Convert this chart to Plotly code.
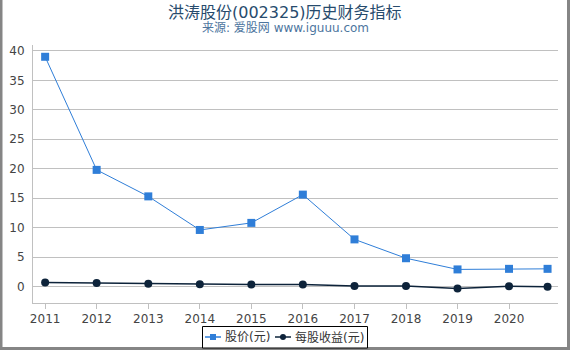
import plotly.graph_objects as go

dates = ["2011-01-01", "2012-01-01", "2013-01-01", "2014-01-01", "2015-01-01",
         "2016-01-01", "2017-01-01", "2018-01-01", "2019-01-01", "2020-01-01",
         "2020-09-30"]
price = [39.0, 19.8, 15.3, 9.6, 10.8, 15.6, 8.0, 4.8, 2.9, 3.0, 3.0]
eps = [0.7, 0.6, 0.45, 0.4, 0.35, 0.35, 0.1, 0.1, -0.35, 0.05, -0.05]
tick_vals = ["2011-01-01", "2012-01-01", "2013-01-01", "2014-01-01", "2015-01-01",
             "2016-01-01", "2017-01-01", "2018-01-01", "2019-01-01", "2020-01-01"]
tick_text = ["2011", "2012", "2013", "2014", "2015", "2016", "2017", "2018", "2019", "2020"]
y_ticks = [0, 5, 10, 15, 20, 25, 30, 35, 40]
series_names = ["股价(元)", "每股收益(元)"]
title_text = "洪涛股份(002325)历史财务指标"
subtitle_text = "来源: 爱股网 www.iguuu.com"

FONT = "DejaVu Sans, Noto Sans CJK SC, sans-serif"
W, H = 570, 350
ML, MR, MT, MB = 33, 12, 45, 47
PW, PH = W - ML - MR, H - MT - MB
C1, C2 = "#2f7ed8", "#0d233a"

fig = go.Figure()
fig.add_trace(go.Scatter(
    x=dates, y=price, name=series_names[0], mode="lines+markers",
    line=dict(color=C1, width=1),
    marker=dict(symbol="square", size=8, color=C1),
))
fig.add_trace(go.Scatter(
    x=dates, y=eps, name=series_names[1], mode="lines+markers",
    line=dict(color=C2, width=1.5),
    marker=dict(symbol="circle", size=8, color=C2),
))

def px_x(p):
    return (p - ML) / PW

def px_y(p):
    return 1 - (p - MT) / PH

border = "#858585"
shapes = [
    dict(type="rect", xref="paper", yref="paper", x0=px_x(0), x1=px_x(2.5),
         y0=px_y(350), y1=px_y(0), fillcolor=border, line=dict(width=0), layer="above"),
    dict(type="rect", xref="paper", yref="paper", x0=px_x(567), x1=px_x(570),
         y0=px_y(350), y1=px_y(0), fillcolor=border, line=dict(width=0), layer="above"),
    dict(type="rect", xref="paper", yref="paper", x0=px_x(0), x1=px_x(570),
         y0=px_y(350), y1=px_y(347), fillcolor=border, line=dict(width=0), layer="above"),
    # legend box
    dict(type="rect", xref="paper", yref="paper", x0=px_x(202.5), x1=px_x(367.5),
         y0=px_y(348), y1=px_y(326.5), fillcolor="white",
         line=dict(color="#000000", width=1), layer="above"),
]

LY = 337
# legend symbols
shapes += [
    dict(type="line", xref="paper", yref="paper", x0=px_x(205), x1=px_x(221),
         y0=px_y(LY), y1=px_y(LY), line=dict(color=C1, width=1.5), layer="above"),
    dict(type="rect", xref="paper", yref="paper", x0=px_x(210), x1=px_x(216),
         y0=px_y(LY + 3), y1=px_y(LY - 3), fillcolor=C1, line=dict(width=0), layer="above"),
    dict(type="line", xref="paper", yref="paper", x0=px_x(275), x1=px_x(291),
         y0=px_y(LY), y1=px_y(LY), line=dict(color=C2, width=1.5), layer="above"),
    dict(type="circle", xref="paper", yref="paper", x0=px_x(280), x1=px_x(286),
         y0=px_y(LY + 3), y1=px_y(LY - 3), fillcolor=C2, line=dict(width=0), layer="above"),
]

annotations = [
    dict(text=title_text, xref="paper", yref="paper", x=px_x(285), y=px_y(12),
         xanchor="center", yanchor="middle", showarrow=False,
         font=dict(size=16, color="#274b6d", family=FONT)),
    dict(text=subtitle_text, xref="paper", yref="paper", x=px_x(285), y=px_y(28.5),
         xanchor="center", yanchor="middle", showarrow=False,
         font=dict(size=12, color="#4d759e", family=FONT)),
    dict(text=series_names[0], xref="paper", yref="paper", x=px_x(223), y=px_y(LY),
         xanchor="left", yanchor="middle", showarrow=False,
         font=dict(size=12, color="#333333", family=FONT)),
    dict(text=series_names[1], xref="paper", yref="paper", x=px_x(293), y=px_y(LY),
         xanchor="left", yanchor="middle", showarrow=False,
         font=dict(size=12, color="#333333", family=FONT)),
]

fig.update_layout(
    width=W, height=H,
    margin=dict(l=ML, r=MR, t=MT, b=MB, autoexpand=False),
    paper_bgcolor="white", plot_bgcolor="white",
    font=dict(family=FONT, size=12, color="#333333"),
    xaxis=dict(
        type="date", range=["2010-10-07", "2020-12-13"],
        tickvals=tick_vals, ticktext=tick_text,
        showgrid=False, showline=True, linecolor="#c0c0c0", linewidth=1,
        ticks="outside", ticklen=5, tickcolor="#c0c0c0",
        tickfont=dict(size=12, color="#444444"), zeroline=False,
    ),
    yaxis=dict(
        range=[-2.8, 41], tickvals=y_ticks,
        showgrid=True, gridcolor="#c0c0c0", gridwidth=1,
        showline=True, linecolor="#c0c0c0", linewidth=1,
        zeroline=False, ticks="", ticklabelstandoff=5,
        tickfont=dict(size=12, color="#444444"),
    ),
    shapes=shapes,
    annotations=annotations,
    showlegend=False,
)

fig.write_html("out.html")
